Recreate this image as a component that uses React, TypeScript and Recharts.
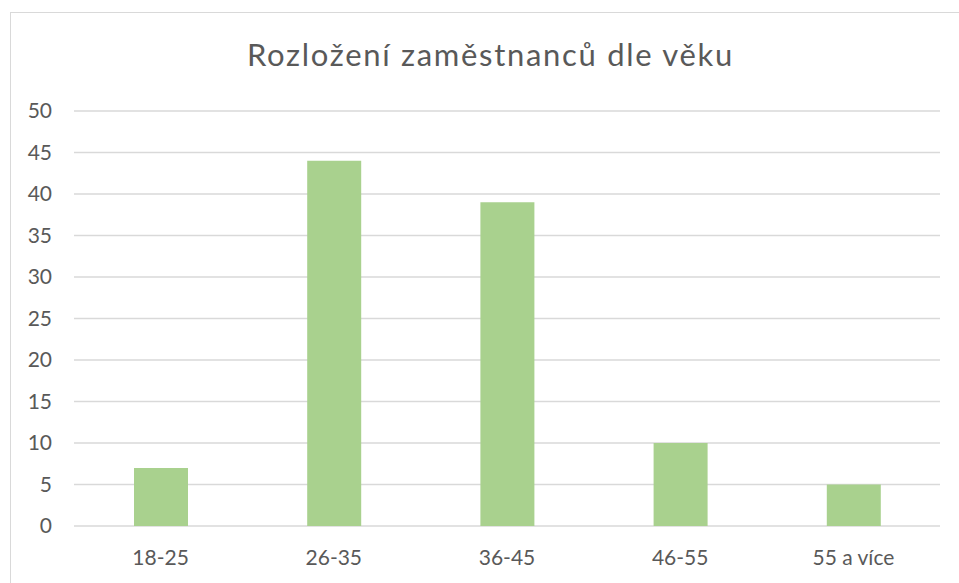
import React from 'react';
import { BarChart, Bar, XAxis, YAxis, CartesianGrid } from 'recharts';

const categories = ['18-25', '26-35', '36-45', '46-55', '55 a více'];
const employees = [7, 44, 39, 10, 5];
const yTicks = [0, 5, 10, 15, 20, 25, 30, 35, 40, 45, 50];

const TEXT = '#595959';
const GRID = '#d9d9d9';
const BAR = '#a9d18e';
const FONT = 'Lato, "Noto Sans", sans-serif';

const data = categories.map((name, i) => ({ name, value: employees[i] }));

const App: React.FC = () => {
  return (
    <div
      style={{
        position: 'absolute',
        left: 0,
        top: 0,
        width: 959,
        height: 583,
        overflow: 'hidden',
        background: '#fff',
        fontFamily: FONT,
      }}
    >
      <div
        style={{
          position: 'absolute',
          left: 10,
          top: 12,
          width: 1000,
          height: 700,
          border: `1px solid ${GRID}`,
          boxSizing: 'border-box',
        }}
      />
      <div
        style={{
          position: 'absolute',
          left: 0,
          top: 39,
          width: 981,
          textAlign: 'center',
          fontSize: 31,
          letterSpacing: 1.7,
          lineHeight: '30px',
          color: TEXT,
        }}
      >
        Rozložení zaměstnanců dle věku
      </div>
      <div style={{ position: 'absolute', left: 0, top: 0 }}>
        <BarChart
          width={959}
          height={583}
          data={data}
          margin={{ top: 111, right: 19, bottom: 17, left: 10 }}
        >
          <CartesianGrid vertical={false} stroke={GRID} strokeWidth={1.5} />
          <XAxis
            dataKey="name"
            height={40}
            axisLine={false}
            tickLine={false}
            tickMargin={18}
            tick={{ fill: TEXT, fontSize: 21, fontFamily: FONT }}
          />
          <YAxis
            width={64}
            domain={[0, 50]}
            ticks={yTicks}
            axisLine={false}
            tickLine={false}
            tickMargin={16}
            tick={{ fill: TEXT, fontSize: 21, fontFamily: FONT }}
          />
          <Bar dataKey="value" fill={BAR} barSize={54} isAnimationActive={false} />
        </BarChart>
      </div>
    </div>
  );
};

export default App;
